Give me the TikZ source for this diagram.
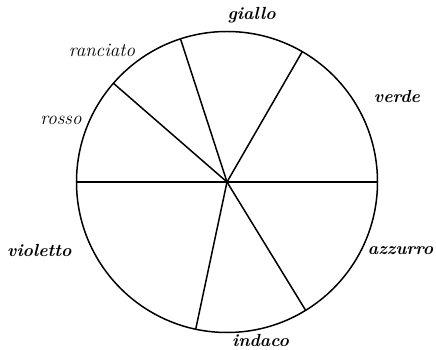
\documentclass[tikz,border=0pt]{standalone}
\usepackage{fontspec}
\usepackage{tikz}
\usetikzlibrary{calc}

\begin{document}
\begin{tikzpicture}[x=1pt, y=1pt, line width=1.5pt,
  thinname/.style={font=\fontsize{19}{21}\selectfont\itshape},
  heavyname/.style={font=\fontsize{17.5}{20}\selectfont\bfseries\itshape}]
  \useasboundingbox (-227,-168) rectangle (209,182);

  % Wheel
  \coordinate (c) at (0,0);
  \draw (c) circle (150.5);

  % Rim points of the sector borders
  \foreach \ang/\nm in {0/e, 60/ne, 108/n, 139/nw, 180/w, 258/s, 301.5/se}
    \coordinate (rim-\nm) at (\ang:150.5);

  % Sector borders
  \foreach \nm in {e, ne, n, nw, w, s, se}
    \draw (c) -- (rim-\nm);

  % Colour names
  \node[heavyname] (giallo) at (24.7,167) {giallo};
  \node[thinname] (ranciato) at (-125,132) {ranciato};
  \node[heavyname] (verde) at (170,85.3) {verde};
  \node[thinname] (rosso) at (-166,62) {rosso};
  \node[heavyname] (violetto) at (-187.7,-68) {violetto};
  \node[heavyname, anchor=east, inner sep=1pt] (azzurro) at (208,-68.7) {azzurro};
  \node[heavyname] (indaco) at (33.5,-158) {indaco};
\end{tikzpicture}
\end{document}
